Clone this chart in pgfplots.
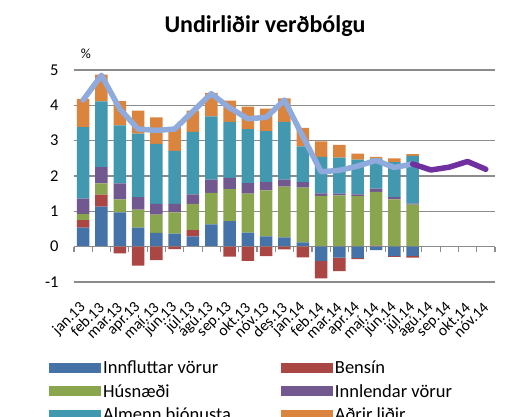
\documentclass[border=0pt]{standalone}
\usepackage{pgfplots}
\pgfplotsset{compat=1.18}
\usepackage{pgfplotstable}
\usepackage{fontspec}
\setmainfont{Carlito}

\definecolor{cinn}{HTML}{4572A7}
\definecolor{cben}{HTML}{AA4643}
\definecolor{chus}{HTML}{89A54E}
\definecolor{cinl}{HTML}{71588F}
\definecolor{calm}{HTML}{4198AF}
\definecolor{cadr}{HTML}{DB843D}
\definecolor{cvb}{HTML}{8FAADC}
\definecolor{cspa}{HTML}{7030A0}
\definecolor{cgrid}{HTML}{8C8C8C}

% positive parts (bp..or) and negative parts (bn, rn) of each component
\pgfplotstableread{
x  bp   rp   gr   pu   te   or   bn    rn
0  0.54 0.21 0.17 0.44 2.02 0.80 0     0
1  1.13 0.34 0.32 0.46 1.86 0.76 0     0
2  0.97 0    0.37 0.45 1.64 0.69 0    -0.19
3  0.54 0    0.51 0.35 1.80 0.65 0    -0.54
4  0.39 0    0.52 0.30 1.70 0.75 0    -0.38
5  0.37 0    0.60 0.24 1.50 0.67 0    -0.07
6  0.29 0.18 0.74 0.27 1.77 0.60 0     0
7  0.63 0    0.89 0.38 1.79 0.66 0     0
8  0.72 0    0.91 0.32 1.58 0.60 0    -0.28
9  0.40 0    1.10 0.30 1.53 0.63 0    -0.40
10 0.29 0    1.30 0.24 1.44 0.64 0    -0.27
11 0.26 0    1.44 0.20 1.63 0.67 0    -0.08
12 0.12 0    1.55 0.16 1.01 0.52 0    -0.30
13 0    0    1.44 0.07 1.03 0.44 -0.41 -0.49
14 0    0    1.45 0.05 1.02 0.36 -0.31 -0.38
15 0    0    1.43 0.05 0.98 0.17 -0.32 -0.03
16 0    0.03 1.52 0.09 0.85 0.05 -0.10 0
17 0    0    1.34 0.06 0.99 0.11 -0.27 -0.02
18 0    0    1.19 0.03 1.35 0.05 -0.26 -0.05
}\bars

\pgfplotstableread{
x  v
0  4.15
1  4.85
2  3.90
3  3.33
4  3.29
5  3.33
6  3.83
7  4.33
8  3.93
9  3.62
10 3.66
11 4.15
12 3.12
13 2.12
14 2.16
15 2.28
16 2.44
17 2.24
18 2.34
}\vbolga

\pgfplotstableread{
x  v
18 2.34
19 2.17
20 2.25
21 2.41
22 2.19
}\spa

\pgfplotsset{
  frame/.style={scale only axis, width=421pt, height=212pt,
    xmin=-0.5, xmax=22.5, ymin=-1, ymax=5, enlargelimits=false,
    at={(0pt,0pt)}, anchor=south west},
  lg/.style={legend image code/.code={\fill[#1] (0pt,-5pt) rectangle (52pt,5pt);}},
}

\begin{document}
\begin{tikzpicture}
\useasboundingbox (-74pt,-135pt) rectangle (438pt,282pt);

\begin{axis}[frame, ybar stacked, bar width=12.5pt,
  axis line style={draw=none}, tick style={draw=none},
  ymajorgrids, grid style={cgrid, line width=1.1pt},
  ytick={-1,0,...,5},
  xtick={0,...,22},
  xticklabels={jan.13,feb.13,mar.13,apr.13,maí.13,jún.13,júl.13,ágú.13,sep.13,okt.13,nóv.13,des.13,jan.14,feb.14,mar.14,apr.14,maí.14,jún.14,júl.14,ágú.14,sep.14,okt.14,nóv.14},
  xticklabel style={font=\fontsize{15.5}{16}\selectfont, inner sep=0pt, xshift=0pt, yshift=-23pt, rotate=45, anchor=east},
  yticklabel style={font=\fontsize{16.5}{17}\selectfont, xshift=-12pt},
  /pgf/number format/assume math mode=true,
  title={Undirliðir verðbólgu},
  title style={font=\bfseries\fontsize{24}{26}\selectfont, at={(0.4537,1.181)}, anchor=center, yshift=0pt},
  ylabel={\%},
  ylabel style={rotate=-90, at={(0.0285,1.075)}, anchor=center, font=\fontsize{14}{14}\selectfont},
  legend columns=2,
  legend cell align=left,
  legend style={draw=none, fill=none, inner sep=0pt, at={(-0.0594,-0.36)}, anchor=north west,
    font=\fontsize{18.5}{20}\selectfont, row sep=5.5pt,
    /tikz/every even column/.append style={column sep=48pt}},
]
\addplot[fill=cinn, draw=none, lg=cinn] table[x=x,y=bp]{\bars};
\addplot[fill=cben, draw=none, lg=cben] table[x=x,y=rp]{\bars};
\addplot[fill=chus, draw=none, lg=chus] table[x=x,y=gr]{\bars};
\addplot[fill=cinl, draw=none, lg=cinl] table[x=x,y=pu]{\bars};
\addplot[fill=calm, draw=none, lg=calm] table[x=x,y=te]{\bars};
\addplot[fill=cadr, draw=none, lg=cadr] table[x=x,y=or]{\bars};
\legend{Innfluttar vörur, Bensín, Húsnæði, Innlendar vörur, Almenn þjónusta, Aðrir liðir}
\end{axis}

% negative parts stacked downward from zero, with the zero line and its ticks
\begin{axis}[frame, ybar stacked, bar width=12.5pt,
  axis x line=middle, axis y line=none,
  x axis line style={cgrid, line width=1.3pt, -},
  xtick={-0.5,0.5,...,22.5}, xticklabels=\empty,
  xtick align=outside, major tick length=5pt,
  xtick style={cgrid, line width=1.1pt},
  ytick=\empty,
]
\addplot[fill=cinn, draw=none] table[x=x,y=bn]{\bars};
\addplot[fill=cben, draw=none] table[x=x,y=rn]{\bars};
\end{axis}

% inflation and forecast lines
\begin{axis}[frame, hide axis]
\addplot[cvb, line width=5.5pt, line join=round, line cap=round, no marks] table[x=x,y=v]{\vbolga};
\addplot[cspa, line width=5.5pt, line join=round, line cap=round, no marks] table[x=x,y=v]{\spa};
\end{axis}
\end{tikzpicture}
\end{document}
